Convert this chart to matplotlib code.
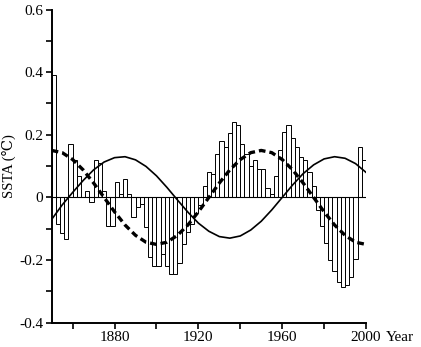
import numpy as np
import matplotlib
matplotlib.use('Agg')
import matplotlib.pyplot as plt

# === DATA ===
bar_years = list(range(1850, 2000, 2))          # left edge of each 2-year bar
ssta = [
    0.39, -0.085, -0.115, -0.133, 0.17, 0.12, 0.07, 0.0, 0.02, -0.013,     # 1850-1868
    0.12, 0.11, 0.02, -0.09, -0.09, 0.048, 0.01, 0.058, 0.01, -0.064,      # 1870-1888
    -0.032, -0.021, -0.096, -0.19, -0.22, -0.22, -0.18, -0.22, -0.245, -0.245,  # 1890-1908
    -0.21, -0.15, -0.11, -0.085, -0.05, -0.025, 0.037, 0.08, 0.074, 0.138,  # 1910-1928
    0.179, 0.16, 0.207, 0.24, 0.23, 0.17, 0.14, 0.10, 0.12, 0.09,          # 1930-1948
    0.09, 0.03, 0.01, 0.07, 0.15, 0.21, 0.23, 0.19, 0.16, 0.13,            # 1950-1968
    0.12, 0.08, 0.035, -0.04, -0.09, -0.145, -0.2, -0.235, -0.27, -0.285,  # 1970-1988
    -0.28, -0.255, -0.195, 0.16, 0.12,                                     # 1990-1998
]

curve_years = list(range(1850, 2001, 5))
solid_curve = [
    -0.07, -0.024, 0.016, 0.054, 0.088, 0.113, 0.127, 0.13, 0.12, 0.099,
    0.069, 0.032, -0.008, -0.047, -0.082, -0.108, -0.125, -0.13, -0.123, -0.104,
    -0.076, -0.04, 0.0, 0.04, 0.076, 0.104, 0.123, 0.13, 0.125, 0.108, 0.08,
]
dashed_curve = [
    0.15, 0.143, 0.121, 0.088, 0.046, 0.0, -0.046, -0.088, -0.121, -0.143,
    -0.15, -0.143, -0.121, -0.088, -0.046, 0.0, 0.046, 0.088, 0.121, 0.143,
    0.15, 0.143, 0.121, 0.088, 0.046, 0.0, -0.046, -0.088, -0.121, -0.143, -0.15,
]

x_major = [1880, 1920, 1960, 2000]
x_minor = [1860, 1900, 1940, 1980]
y_major = [-0.4, -0.2, 0.0, 0.2, 0.4, 0.6]
y_minor = [-0.3, -0.1, 0.1, 0.3, 0.5]

plt.rcParams['font.family'] = ['Liberation Serif', 'DejaVu Serif']

fig = plt.figure(figsize=(4.21, 3.47), dpi=100)
ax = fig.add_axes([0.1228, 0.070, 0.7466, 0.9026])

ax.bar(bar_years, ssta, width=2, align='edge', color='white',
       edgecolor='black', linewidth=0.7, zorder=2)
ax.plot([1850, 2000], [0, 0], color='black', linewidth=0.8, zorder=3)
ax.plot(curve_years, solid_curve, color='black', linewidth=1.2, zorder=4)
ax.plot(curve_years, dashed_curve, color='black', linewidth=2.4,
        dashes=(2.0, 1.2), zorder=4)

ax.set_xlim(1850, 2000)
ax.set_ylim(-0.4, 0.6)

for side in ['top', 'right']:
    ax.spines[side].set_visible(False)
for side in ['left', 'bottom']:
    ax.spines[side].set_linewidth(1.4)

ax.set_xticks(x_major)
ax.set_xticklabels(['1880', '1920', '1960', '2000'])
ax.set_xticks(x_minor, minor=True)
ax.set_yticks(y_major)
ax.set_yticklabels(['-0.4', '-0.2', '0', '0.2', '0.4', '0.6'])
ax.set_yticks(y_minor, minor=True)
ax.tick_params(axis='both', which='both', direction='out', length=4,
               width=1.2, labelsize=11, pad=2)

# "Year" sits on the tick-label baseline, right after "2000"
ax.annotate('Year', xy=(1, 0), xycoords='axes fraction',
            xytext=(14, -6), textcoords='offset points',
            fontsize=11, ha='left', va='top')
ax.set_ylabel('SSTA (℃)', fontsize=10.5, labelpad=2)

fig.savefig('out.png', dpi=100)
